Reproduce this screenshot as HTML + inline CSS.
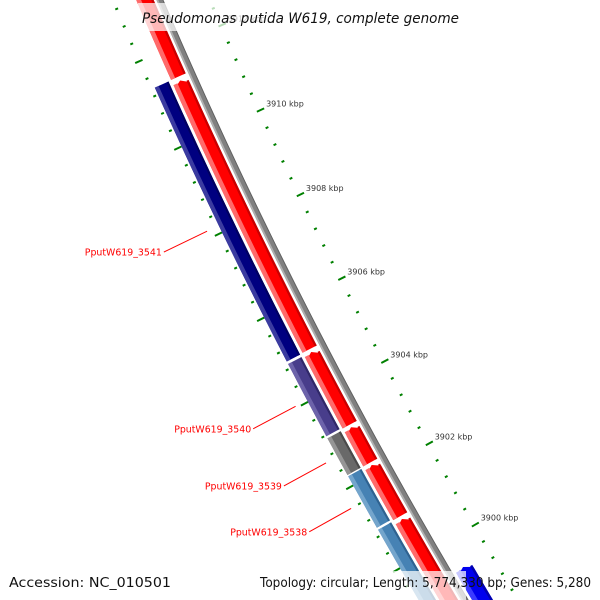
<!DOCTYPE html>
<html><head><meta charset="utf-8"><style>
html,body{margin:0;padding:0;background:#fff;overflow:hidden}
svg{display:block;overflow:hidden}
</style></head><body>
<svg id="map" width="600" height="600" viewBox="0 0 600 600" xmlns="http://www.w3.org/2000/svg" font-family="'DejaVu Sans','Liberation Sans',sans-serif">
<rect width="600" height="600" fill="#fff"/>
<g id="ticks"></g>
<g id="genes"></g>
<g id="labels"></g>
<rect x="138" y="3" width="325" height="28" fill="#fff" fill-opacity="0.72"/>
<text x="142" y="23" font-size="14" font-style="italic" fill="#111" textLength="317" lengthAdjust="spacingAndGlyphs">Pseudomonas putida W619, complete genome</text>
<rect x="0" y="571" width="466" height="29" fill="#fff" fill-opacity="0.72"/>
<text x="9" y="587" font-size="13" fill="#111" textLength="162" lengthAdjust="spacingAndGlyphs">Accession: NC_010501</text>
<text x="591" y="587" font-size="13" fill="#111" text-anchor="end" textLength="331" lengthAdjust="spacingAndGlyphs">Topology: circular; Length: 5,774,330 bp; Genes: 5,280</text>
</svg>
<script>
// ---- data (kbp) ----
const forwardStarts = [3911.37, 3904.97, 3903.16, 3902.25, 3900.95, 3895.0];
const forwardEnds   = [3917.0, 3911.28, 3904.90, 3903.10, 3902.19, 3900.88];
const reverseNames  = ["PputW619_3541", "PputW619_3540", "PputW619_3539", "PputW619_3538", ""];
const reverseStarts = [3904.96, 3903.18, 3902.25, 3900.98, 3895.0];
const reverseEnds   = [3911.36, 3904.90, 3903.13, 3902.22, 3900.93];
const reverseColors = ["#000080", "#483d8b", "#696969", "#4682b4", "#4682b4"];
const innerStarts   = [3895.0];
const innerEnds     = [3899.35];
const majorTickKbp  = [3898, 3900, 3902, 3904, 3906, 3908, 3910, 3912, 3914, 3916];
const tickLabelKbp  = [3900, 3902, 3904, 3906, 3908, 3910, 3912, 3914];
const tickLabels    = ["3900 kbp", "3902 kbp", "3904 kbp", "3906 kbp", "3908 kbp", "3910 kbp", "3912 kbp", "3914 kbp"];

// ---- geometry ----
const CX = 4860, CY = -2011, A0 = 149.96, DEG_PER_KBP = 0.5283;
function pt(k, r) {
  const t = (A0 + (k - 3900) * DEG_PER_KBP) * Math.PI / 180;
  return [CX + r * Math.cos(t), CY + r * Math.sin(t)];
}
const NS = "http://www.w3.org/2000/svg";
function mk(tag, attrs, parent) {
  const e = document.createElementNS(NS, tag);
  for (const a in attrs) e.setAttribute(a, attrs[a]);
  parent.appendChild(e);
  return e;
}
function bandPath(k1, k2, r1, r2, arrow) {
  const ah = 0.11, pts = [];
  const kt = arrow ? k2 - ah : k2;
  const n = Math.max(4, Math.ceil((kt - k1) * 4));
  for (let i = 0; i <= n; i++) pts.push(pt(k1 + (kt - k1) * i / n, r2));
  if (arrow) pts.push(pt(k2, (r1 + r2) / 2));
  for (let i = n; i >= 0; i--) pts.push(pt(k1 + (kt - k1) * i / n, r1));
  return "M" + pts.map(p => p[0].toFixed(2) + "," + p[1].toFixed(2)).join("L") + "Z";
}
function shadedBand(parent, k1, k2, r1, r2, main, light, dark, arrow, name) {
  const g = mk("g", {}, parent);
  
  
  const w = r2 - r1;
  const p1 = mk("path", {d: bandPath(k1, k2, r1, r2, arrow), fill: main}, g);
  
  
  const p2 = mk("path", {d: bandPath(k1, k2 - (arrow ? 0.03 : 0), r2 - w * 0.28, r2, false), fill: light}, g);
  
  
  const p3 = mk("path", {d: bandPath(k1, k2 - (arrow ? 0.06 : 0), r1, r1 + w * 0.14, false), fill: dark}, g);
  
  
}

const ticksG = document.getElementById('ticks');
const genesG = document.getElementById('genes');
const labelsG = document.getElementById('labels');

// backbone
shadedBand(genesG, 3895, 3917, 5109, 5115.5, "#808080", "#b0b0b0", "#606060", false, "backbone");

// ticks (every 0.4 kbp, majors every 2 kbp)
function tickLine(k, ra, rb, name) {
  const a = pt(k, ra), b = pt(k, rb);
  const l = mk("line", {x1: a[0], y1: a[1], x2: b[0], y2: b[1], stroke: "#008000", "stroke-width": 2}, ticksG);
  
  
}
for (let i = 0; i <= 55; i++) {
  const k = 3895.2 + i * 0.4;
  const isMajor = majorTickKbp.some(m => Math.abs(m - k) < 0.05);
  if (isMajor) {
    tickLine(k, 5152, 5160, 'inner-major-tick');
    tickLine(k, 5061, 5069, 'outer-major-tick');
  } else {
    tickLine(k, 5154, 5157, 'inner-minor-tick');
    tickLine(k, 5065, 5068, 'outer-minor-tick');
  }
}
tickLabelKbp.forEach((k, i) => {
  const p = pt(k, 5060);
  const t = mk("text", {x: (p[0] + 1).toFixed(1), y: (p[1] - 1.5).toFixed(1), "font-size": 8, fill: "#333"}, ticksG);
  
  
  t.textContent = tickLabels[i];
});

// forward genes
forwardStarts.forEach((s, i) => {
  shadedBand(genesG, s, forwardEnds[i], 5118, 5134, "#ff0000", "#ff6a6a", "#c80000", true, "forward-gene-" + i);
});
// reverse genes
const lightOf = {"#000080": "#3b3ba0", "#483d8b": "#6d63aa", "#696969": "#959595", "#4682b4": "#74a5cc"};
const darkOf = {"#000080": "#000060", "#483d8b": "#302868", "#696969": "#4a4a4a", "#4682b4": "#2f6290"};
reverseStarts.forEach((s, i) => {
  const c = reverseColors[i];
  shadedBand(genesG, s, reverseEnds[i], 5137, 5152, c, lightOf[c], darkOf[c], false, "reverse-gene-" + i);
});
// inner strand gene
innerStarts.forEach((s, i) => {
  shadedBand(genesG, s, innerEnds[i], 5088, 5106, "#0000ee", "#3a3aff", "#0000b0", true, "inner-gene-" + i);
});

// gene labels
reverseNames.forEach((nm, i) => {
  if (!nm) return;
  const mid = (reverseStarts[i] + reverseEnds[i]) / 2;
  const a = pt(mid, 5165), b = pt(mid, 5213);
  const l = mk("line", {x1: a[0], y1: a[1], x2: b[0], y2: b[1], stroke: "#ff0000", "stroke-width": 1}, labelsG);
  
  
  const t = mk("text", {x: (b[0] - 2).toFixed(1), y: (b[1] + 3.5).toFixed(1), "font-size": 10, fill: "#ff0000", "text-anchor": "end", textLength: 77, lengthAdjust: "spacingAndGlyphs"}, labelsG);
  
  
  t.textContent = nm;
});
</script>
</body></html>
